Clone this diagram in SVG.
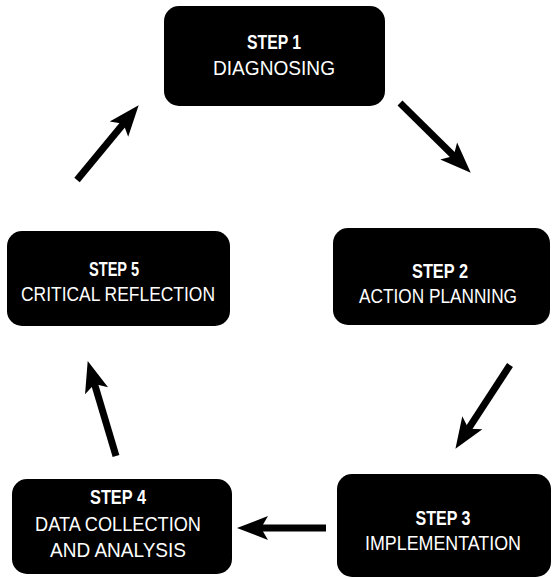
<svg xmlns="http://www.w3.org/2000/svg" width="553" height="579" viewBox="0 0 553 579">
<style>
.box{fill:#000}
.t{fill:#fff;font-family:"Liberation Sans",Arial,sans-serif;font-size:21px;text-anchor:middle}
.b{font-weight:bold;font-size:20px}
.arr{stroke:#000;stroke-width:7;fill:none;marker-end:url(#ah)}
</style>
<defs>
<marker id="ah" markerUnits="userSpaceOnUse" markerWidth="40" markerHeight="30" viewBox="0 -15 40 30" refX="10" refY="0" orient="auto">
<path d="M31,0 L0,-12 L7,0 L0,12 Z" fill="#000"/>
</marker>
</defs>
<rect width="553" height="579" fill="#fff"/>
<g id="step1">
<rect class="box" x="164" y="6" width="221" height="100" rx="15"/>
<text class="t b" x="274" y="49" textLength="54" lengthAdjust="spacingAndGlyphs">STEP 1</text>
<text class="t" x="274" y="75" textLength="122" lengthAdjust="spacingAndGlyphs">DIAGNOSING</text>
</g>
<g id="step2">
<rect class="box" x="333" y="228" width="217" height="97" rx="15"/>
<text class="t b" x="440" y="278" textLength="56" lengthAdjust="spacingAndGlyphs">STEP 2</text>
<text class="t" x="438" y="303" textLength="158" lengthAdjust="spacingAndGlyphs">ACTION PLANNING</text>
</g>
<g id="step3">
<rect class="box" x="337" y="474" width="214" height="103" rx="15"/>
<text class="t b" x="443" y="525" textLength="55" lengthAdjust="spacingAndGlyphs">STEP 3</text>
<text class="t" x="443" y="550" textLength="156" lengthAdjust="spacingAndGlyphs">IMPLEMENTATION</text>
</g>
<g id="step4">
<rect class="box" x="12" y="479" width="220" height="95" rx="15"/>
<text class="t b" x="118" y="504" textLength="56" lengthAdjust="spacingAndGlyphs">STEP 4</text>
<text class="t" x="118" y="531" textLength="166" lengthAdjust="spacingAndGlyphs">DATA COLLECTION</text>
<text class="t" x="118" y="557" textLength="136" lengthAdjust="spacingAndGlyphs">AND ANALYSIS</text>
</g>
<g id="step5">
<rect class="box" x="7" y="231" width="223" height="95" rx="15"/>
<text class="t b" x="114" y="276" textLength="50" lengthAdjust="spacingAndGlyphs">STEP 5</text>
<text class="t" x="118" y="301" textLength="194" lengthAdjust="spacingAndGlyphs">CRITICAL REFLECTION</text>
</g>
<g id="connectors">
<line class="arr" x1="400" y1="103" x2="455.8" y2="158"/>
<line class="arr" x1="510" y1="365" x2="466.9" y2="431.2"/>
<line class="arr" x1="326" y1="528" x2="258" y2="528"/>
<line class="arr" x1="116" y1="456" x2="93.7" y2="381.2"/>
<line class="arr" x1="77" y1="180" x2="125.3" y2="121.4"/>
</g>
</svg>
